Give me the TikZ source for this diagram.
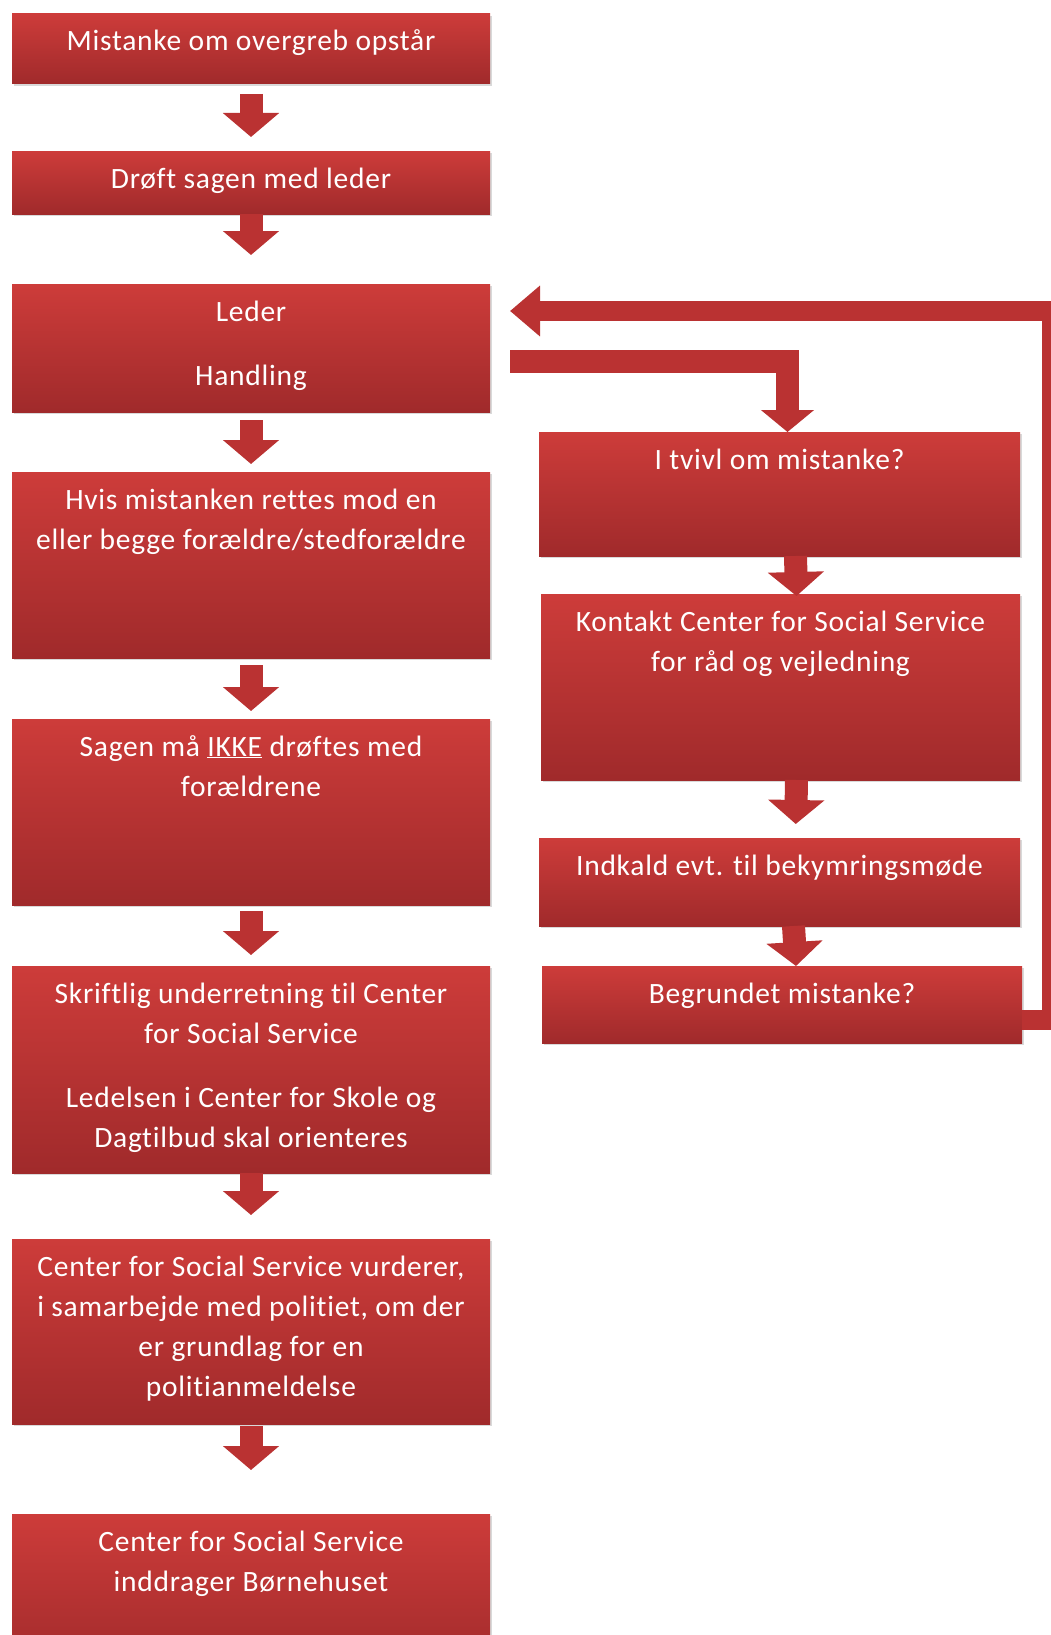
\documentclass[tikz,border=0pt]{standalone}
\usepackage{fontspec}
\setmainfont{Carlito}[LetterSpace=2.5, Ligatures=CommonOff]
\usetikzlibrary{positioning,calc,arrows.meta,shadows}
\definecolor{boxtop}{RGB}{205,60,58}
\definecolor{boxbot}{RGB}{160,42,43}
\definecolor{arrowred}{RGB}{186,50,50}
% text sits at the top of each box
\newcommand{\boxtxt}[3]{\parbox[c][#2pt][t]{#1pt}{\centering\rule{0pt}{37pt}#3}}

\begin{document}
\begin{tikzpicture}[x=1pt,y=-1pt,
	flowbox/.style={inner sep=0pt, outer sep=0pt, anchor=north west, top color=boxtop, bottom color=boxbot, text=white,
		drop shadow={shadow xshift=2pt, shadow yshift=-2pt, opacity=.3}},
	flowarrow/.style={draw=arrowred, line width=23pt, -{Triangle[width=55pt,length=24pt]}},
	font=\fontsize{29.5}{40}\selectfont]
	\useasboundingbox (0,0) rectangle (1051,1635);
	\clip (0,0) rectangle (1051,1635);
	
	%left column
	\node[flowbox] (mistanke) at (12,14) {\boxtxt{478}{70}{Mistanke om overgreb opstår}};
	\node[flowbox] (droeft) at (12,151) {\boxtxt{478}{63}{Drøft sagen med leder}};
	\node[flowbox] (leder) at (12,284) {\boxtxt{478}{128}{Leder\\[24pt]Handling}};
	\node[flowbox] (hvis) at (12,472) {\boxtxt{478}{186}{Hvis mistanken rettes mod en\\eller begge forældre/stedforældre}};
	\node[flowbox] (sagen) at (12,719) {\boxtxt{478}{186}{Sagen må \underline{IKKE} drøftes med\\forældrene}};
	\node[flowbox] (skriftlig) at (12,966) {\boxtxt{478}{207}{Skriftlig underretning til Center\\for Social Service\\[24pt]Ledelsen i Center for Skole og\\Dagtilbud skal orienteres}};
	\node[flowbox] (vurderer) at (12,1239) {\boxtxt{478}{185}{Center for Social Service vurderer,\\i samarbejde med politiet, om der\\er grundlag for en\\politianmeldelse}};
	\node[flowbox] (boernehus) at (12,1514) {\boxtxt{478}{160}{Center for Social Service\\inddrager Børnehuset}};
	
	%right column
	\node[flowbox] (tvivl) at (539,432) {\boxtxt{481}{124}{I tvivl om mistanke?}};
	\node[flowbox] (kontakt) at (541,594) {\boxtxt{479}{186}{Kontakt Center for Social Service\\for råd og vejledning}};
	\node[flowbox] (indkald) at (539,838) {\boxtxt{481}{88}{Indkald evt. til bekymringsmøde}};
	\node[flowbox] (begrundet) at (542,966) {\boxtxt{480}{77}{Begrundet mistanke?}};
	
	\coordinate (retur) at (1052,311);
	
	%arrows
	\draw[flowarrow, shorten <=10pt, shorten >=14pt] (mistanke.south) -- (droeft.north);
	\draw[flowarrow, shorten <=0pt, shorten >=29pt] (droeft.south) -- (leder.north);
	\draw[flowarrow, shorten <=8pt, shorten >=8pt] (leder.south) -- (hvis.north);
	\draw[flowarrow, shorten <=7pt, shorten >=8pt] (hvis.south) -- (sagen.north);
	\draw[flowarrow, shorten <=6pt, shorten >=11pt] (sagen.south) -- (skriftlig.north);
	\draw[flowarrow, shorten <=0pt, shorten >=24pt] (skriftlig.south) -- (vurderer.north);
	\draw[flowarrow, shorten <=2pt, shorten >=44pt] (vurderer.south) -- (boernehus.north);
	
	\draw[flowarrow] ([xshift=16pt]tvivl.south) -- ([xshift=16pt,yshift=-2pt]kontakt.north);
	\draw[flowarrow, shorten >=14pt] ([xshift=16pt]kontakt.south) -- ([xshift=16pt]indkald.north);
	\draw[flowarrow] ([xshift=14pt]indkald.south) -- ([xshift=14pt]begrundet.north);
	
	\draw[flowarrow, -{Triangle[width=52pt,length=22pt]}] ([xshift=20pt,yshift=-13pt]leder.east) -| ([xshift=8pt]tvivl.north);
	\draw[flowarrow, line width=20pt, -{Triangle[width=49pt,length=30pt]}] ([yshift=-15pt]begrundet.east) -| (retur) -- ([xshift=20pt,yshift=37pt]leder.east);
\end{tikzpicture}
\end{document}
